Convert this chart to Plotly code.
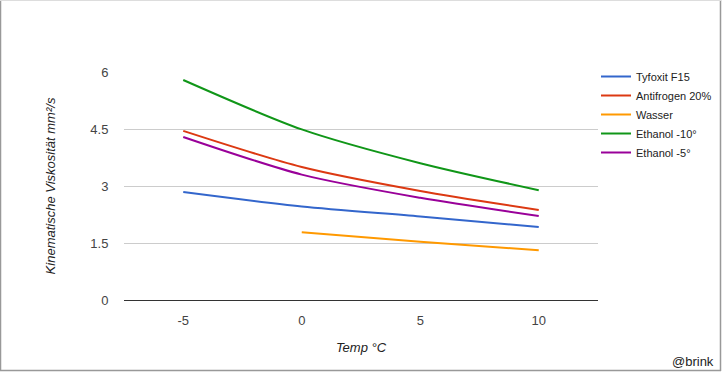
import plotly.graph_objects as go

temps = [-5, 0, 5, 10]
tyfoxit = [2.84, 2.46, 2.20, 1.92]
antifrogen = [4.45, 3.50, 2.87, 2.37]
wasser = [None, 1.78, 1.53, 1.31]
ethanol10 = [5.79, 4.49, 3.60, 2.89]
ethanol5 = [4.29, 3.30, 2.69, 2.21]

series_names = ["Tyfoxit F15", "Antifrogen 20%", "Wasser", "Ethanol -10°", "Ethanol -5°"]
series_vals = [tyfoxit, antifrogen, wasser, ethanol10, ethanol5]
colors = ["#3366cc", "#dc3912", "#ff9900", "#109618", "#990099"]

y_ticks = [0, 1.5, 3, 4.5, 6]
y_tick_text = ["0", "1.5", "3", "4.5", "6"]
x_ticks = [-5, 0, 5, 10]
x_tick_text = ["-5", "0", "5", "10"]

fig = go.Figure()
for name, vals, c in zip(series_names, series_vals, colors):
    xs = [t for t, v in zip(temps, vals) if v is not None]
    ys = [v for v in vals if v is not None]
    fig.add_trace(go.Scatter(x=xs, y=ys, name=name, mode="lines",
                             line=dict(color=c, width=2, shape="spline", smoothing=0.8)))

W, H = 722, 373
L, R, T, B = 124, 598, 72, 300
pw, ph = R - L, B - T

def px(xp):
    return (xp - L) / pw

def py(yp):
    return (B - yp) / ph

fig.update_layout(
    width=W, height=H,
    margin=dict(l=L, r=W - R, t=T, b=H - B, pad=0, autoexpand=False),
    paper_bgcolor="white", plot_bgcolor="white",
    font=dict(family="Liberation Sans, Arial, sans-serif", size=13, color="#444"),
    xaxis=dict(range=[-7.5, 12.5], tickvals=x_ticks, ticktext=x_tick_text,
               showgrid=False, zeroline=False, showline=False,
               ticks="outside", ticklen=8, tickcolor="rgba(0,0,0,0)",
               title=dict(text="<i>Temp °C</i>", font=dict(size=13, color="#222"), standoff=16)),
    yaxis=dict(range=[0, 6], tickvals=y_ticks, ticktext=y_tick_text,
               showgrid=True, gridcolor="#cccccc", gridwidth=1,
               zeroline=True, zerolinecolor="#333333", zerolinewidth=1,
               showline=False, ticks="outside", ticklen=12, tickcolor="rgba(0,0,0,0)",
               title=dict(text="<i>Kinematische Viskosität mm²/s</i>", font=dict(size=13, color="#222"), standoff=31)),
    legend=dict(x=px(596), y=py(62), xanchor="left", yanchor="top",
                font=dict(size=11, color="#222"), tracegroupgap=0, itemwidth=30,
                bgcolor="rgba(0,0,0,0)"),
    showlegend=True,
)

fig.add_annotation(text="@brink", xref="paper", yref="paper", x=px(716), y=py(361),
                   xanchor="right", yanchor="middle", showarrow=False,
                   font=dict(size=13, color="#222"))

# outer frame
fig.add_shape(type="line", xref="paper", yref="paper", x0=px(0.5), x1=px(0.5), y0=py(0), y1=py(371),
              line=dict(color="#999999", width=1.5))
fig.add_shape(type="line", xref="paper", yref="paper", x0=px(720.5), x1=px(720.5), y0=py(0), y1=py(371),
              line=dict(color="#999999", width=1.5))
fig.add_shape(type="line", xref="paper", yref="paper", x0=px(0), x1=px(721), y0=py(370.5), y1=py(370.5),
              line=dict(color="#999999", width=1.5))
fig.add_shape(type="line", xref="paper", yref="paper", x0=px(0), x1=px(721), y0=py(0.5), y1=py(0.5),
              line=dict(color="#dddddd", width=1))

fig.write_html(
    "out.html",
    config={"responsive": False, "displayModeBar": False},
    default_width="722px",
    default_height="373px",
    post_script="document.body.style.margin='0';document.body.style.padding='0';document.body.style.overflow='hidden';document.documentElement.style.overflow='hidden';",
)
